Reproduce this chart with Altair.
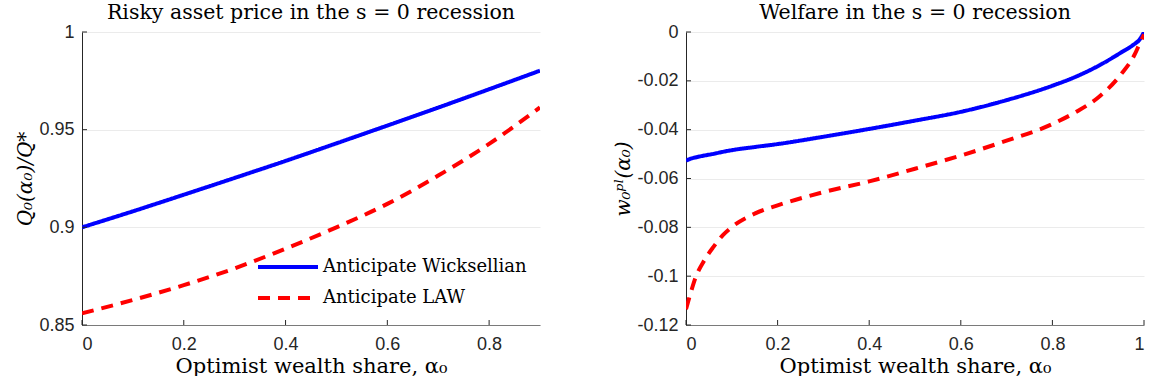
import altair as alt
import pandas as pd

# ---- data -------------------------------------------------------------
series_names = ["Anticipate Wicksellian", "Anticipate LAW"]

# Left panel: risky asset price Q0(alpha0)/Q*
alpha_price = [0.0, 0.1, 0.2, 0.3, 0.4, 0.5, 0.6, 0.7, 0.8, 0.9]
price_wick = [0.900, 0.9082, 0.9167, 0.9253, 0.9340, 0.9430, 0.9521, 0.9613, 0.9707, 0.9802]
price_law = [0.856, 0.8628, 0.8704, 0.8790, 0.8891, 0.9000, 0.9120, 0.9265, 0.9427, 0.9614]

# Right panel: welfare w0^pl(alpha0)
alpha_welfare = [0.0, 0.01, 0.02, 0.04, 0.06, 0.08, 0.1, 0.15, 0.2, 0.3, 0.4,
                 0.5, 0.6, 0.7, 0.8, 0.85, 0.9, 0.95, 0.98, 0.99, 1.0]
welfare_wick = [-0.0527, -0.0519, -0.0514, -0.0506, -0.0499, -0.0491, -0.0484,
                -0.0471, -0.0459, -0.0429, -0.0397, -0.0363, -0.0327, -0.0279,
                -0.0220, -0.0184, -0.0139, -0.0084, -0.0048, -0.0032, 0.0]
welfare_law = [-0.1135, -0.107, -0.101, -0.0935, -0.0880, -0.0833, -0.0799,
               -0.0744, -0.0710, -0.0656, -0.0612, -0.0560, -0.0506, -0.0445,
               -0.0377, -0.0329, -0.0268, -0.0173, -0.0091, -0.0050, -0.0010]

price_xticks = [0, 0.2, 0.4, 0.6, 0.8]
price_yticks = [0.85, 0.9, 0.95, 1.0]
welfare_xticks = [0, 0.2, 0.4, 0.6, 0.8, 1.0]
welfare_yticks = [-0.12, -0.1, -0.08, -0.06, -0.04, -0.02, 0.0]


def long_frame(x, a, b):
    rows = [{"alpha": xi, "value": v, "series": series_names[0]} for xi, v in zip(x, a)]
    rows += [{"alpha": xi, "value": v, "series": series_names[1]} for xi, v in zip(x, b)]
    return pd.DataFrame(rows)


price_df = long_frame(alpha_price, price_wick, price_law)
welfare_df = long_frame(alpha_welfare, welfare_wick, welfare_law)

W, H = 458, 293
INK = "#262626"
SERIF = "DejaVu Serif"
SANS = "Liberation Sans"


def panel(df, xdom, xticks, ydom, yticks, title, ytitle, show_legend):
    xscale = alt.Scale(domain=xdom, nice=False, zero=False)
    yscale = alt.Scale(domain=ydom, nice=False, zero=False)
    label_expr = "(datum.value < 0 ? '-' : '') + format(abs(datum.value), '~g')"

    legend = None
    if show_legend:
        # long horizontal line sample: path spans twice the nominal symbol width
        legend = alt.Legend(
            title=None, orient="none", legendX=189, legendY=218,
            symbolType="M-2,0H2", symbolSize=900, symbolStrokeWidth=4,
            labelFont=SERIF, labelFontSize=18, labelColor="black", labelLimit=0,
            labelOffset=18, rowPadding=5, symbolLimit=2,
        )

    lines = alt.Chart(df).mark_line(strokeWidth=4, interpolate="monotone", clip=True).encode(
        x=alt.X("alpha:Q", scale=xscale,
                axis=alt.Axis(values=xticks, title="Optimist wealth share, α₀",
                              labelExpr=label_expr, grid=False, tickSize=0,
                              domainColor="#7a7a7a", labelPadding=10, titlePadding=2,
                              titleFontSize=21)),
        y=alt.Y("value:Q", scale=yscale,
                axis=alt.Axis(values=yticks, title=ytitle, labelExpr=label_expr,
                              grid=True, gridColor="#ebebeb", tickSize=0,
                              domainColor=INK, labelPadding=8, titlePadding=3,
                              titleFontSize=20, titleFontStyle="italic")),
        color=alt.Color("series:N", scale=alt.Scale(domain=series_names, range=["#0000ff", "#ff0000"]),
                        legend=legend),
        strokeDash=alt.StrokeDash("series:N",
                                  scale=alt.Scale(domain=series_names, range=[[1, 0], [12, 8]]),
                                  legend=legend),
        order=alt.Order("alpha:Q"),
    )

    # inward-pointing tick marks along both axes
    xt = alt.Chart(pd.DataFrame({"v": xticks})).mark_rule(color=INK, strokeWidth=1).encode(
        x=alt.X("v:Q", scale=xscale), y=alt.value(H), y2=alt.value(H - 5))
    yt = alt.Chart(pd.DataFrame({"v": yticks})).mark_rule(color=INK, strokeWidth=1).encode(
        y=alt.Y("v:Q", scale=yscale), x=alt.value(0), x2=alt.value(5))

    return alt.layer(lines, xt, yt).properties(
        width=W, height=H,
        title=alt.TitleParams(title, font=SERIF, fontSize=20.5, fontWeight="normal",
                              color="black", anchor="middle", offset=0),
    ).resolve_scale(color="independent", strokeDash="independent")


left = panel(price_df, [0, 0.9], price_xticks, [0.85, 1.0], price_yticks,
             "Risky asset price in the s = 0 recession", "Q₀(α₀)/Q*", True)
right = panel(welfare_df, [0, 1.0], welfare_xticks, [-0.12, 0.0], welfare_yticks,
              "Welfare in the s = 0 recession", "w₀ᵖˡ(α₀)", False)

chart = alt.hconcat(left, right, spacing=73).resolve_scale(
    color="independent", strokeDash="independent"
).properties(
    padding={"left": 15, "top": 2, "right": 5, "bottom": 0},
    background="white",
).configure_view(stroke=None).configure_axis(
    labelFont=SANS, labelFontSize=18, labelColor=INK,
    titleFont=SERIF, titleFontSize=18, titleFontWeight="normal", titleColor="black",
    domainWidth=1,
)

chart.save("out.html", embed_options={"renderer": "svg", "actions": False})
